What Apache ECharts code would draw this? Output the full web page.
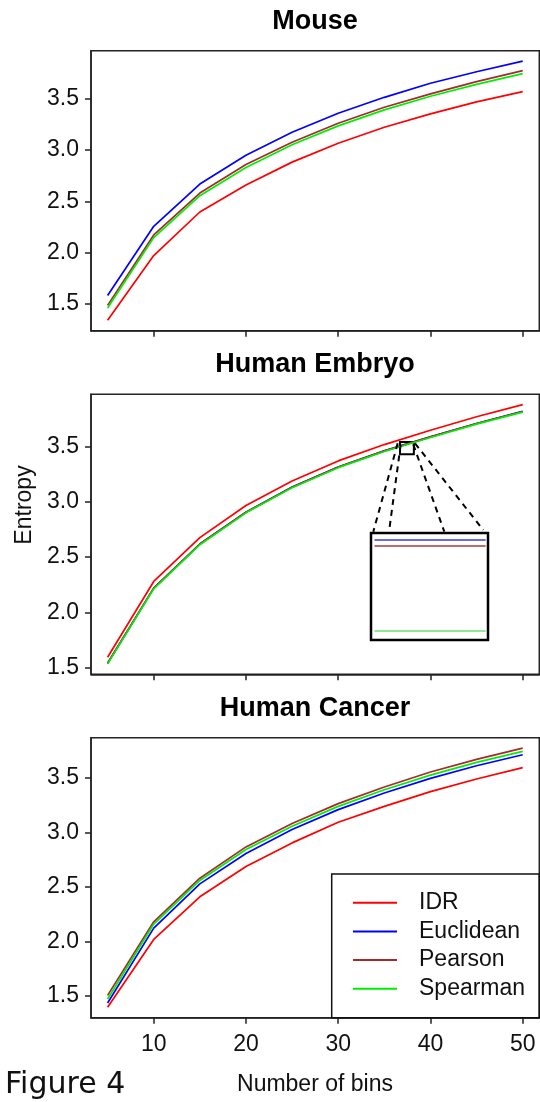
<!DOCTYPE html>
<html>
<head>
<meta charset="utf-8">
<script src="https://cdn.jsdelivr.net/npm/echarts@6.0.0/dist/echarts.min.js"></script>
<style>
  html, body { margin: 0; padding: 0; background: #fff; }
  #main { width: 540px; height: 1102px; }
</style>
</head>
<body>
<div id="main"></div>
<script>
// number of bins (x) shared by all three panels
var bins = [5, 10, 15, 20, 25, 30, 35, 40, 45, 50];
var methods = ['IDR', 'Euclidean', 'Pearson', 'Spearman'];
var colors = ['#ff0000', '#0000ff', '#a52a2a', '#00ee00'];
var panelTitles = ['Mouse', 'Human Embryo', 'Human Cancer'];
var xTicks = [10, 20, 30, 40, 50];
var yTicks = [1.5, 2.0, 2.5, 3.0, 3.5];

// entropy values
var mouseIDR       = [1.338, 1.971, 2.396, 2.659, 2.883, 3.068, 3.224, 3.354, 3.471, 3.571];
var mouseEuclidean = [1.581, 2.256, 2.669, 2.951, 3.175, 3.360, 3.516, 3.653, 3.766, 3.870];
var mousePearson   = [1.484, 2.172, 2.581, 2.860, 3.078, 3.263, 3.419, 3.549, 3.669, 3.776];
var mouseSpearman  = [1.458, 2.146, 2.555, 2.831, 3.052, 3.237, 3.393, 3.526, 3.643, 3.747];

var embryoIDR       = [1.593, 2.279, 2.676, 2.967, 3.188, 3.370, 3.518, 3.648, 3.770, 3.879];
var embryoEuclidean = [1.539, 2.219, 2.618, 2.906, 3.133, 3.315, 3.461, 3.588, 3.709, 3.818];
var embryoPearson   = [1.5386, 2.2186, 2.6176, 2.9056, 3.1326, 3.3146, 3.4606, 3.5876, 3.7086, 3.8176];
var embryoSpearman  = [1.533, 2.213, 2.612, 2.900, 3.127, 3.309, 3.455, 3.582, 3.703, 3.812];

var cancerIDR       = [1.396, 2.019, 2.410, 2.688, 2.905, 3.094, 3.240, 3.375, 3.491, 3.595];
var cancerEuclidean = [1.436, 2.123, 2.529, 2.807, 3.027, 3.210, 3.363, 3.497, 3.613, 3.714];
var cancerPearson   = [1.506, 2.181, 2.581, 2.868, 3.082, 3.265, 3.418, 3.555, 3.671, 3.775];
var cancerSpearman  = [1.473, 2.160, 2.560, 2.844, 3.057, 3.240, 3.393, 3.527, 3.644, 3.744];

var panels = [
    [mouseIDR, mouseEuclidean, mousePearson, mouseSpearman],
    [embryoIDR, embryoEuclidean, embryoPearson, embryoSpearman],
    [cancerIDR, cancerEuclidean, cancerPearson, cancerSpearman]
];

// zoomed region marked on the embryo panel (bins, entropy)
var zoomBins = [36.7, 38.2];
var zoomEntropy = [3.43, 3.542];

var FONT = '"Liberation Sans", Arial, sans-serif';

// R style range: data range padded by 4% on each side
function padRange(arrs) {
    var lo = Infinity, hi = -Infinity;
    arrs.forEach(function (a) {
        a.forEach(function (v) { lo = Math.min(lo, v); hi = Math.max(hi, v); });
    });
    var r = hi - lo;
    return [lo - 0.04 * r, hi + 0.04 * r];
}

var xRange = padRange([bins]);
var gridTops = [50.7, 394.3, 737.7];
var grids = [], xAxes = [], yAxes = [], series = [];

panels.forEach(function (vals, i) {
    var yr = padRange(vals);
    grids.push({
        left: 91, width: 448.3, top: gridTops[i], height: 280,
        show: true, borderColor: '#222', borderWidth: 1.5,
        backgroundColor: 'transparent'
    });
    xAxes.push({
        type: 'value', gridIndex: i, min: xRange[0], max: xRange[1],
        splitLine: { show: false },
        axisLine: { show: true, lineStyle: { color: '#222', width: 1.5 } },
        axisTick: { show: true, length: 6, customValues: xTicks, lineStyle: { color: '#222', width: 1.5 } },
        axisLabel: {
            show: i === 2, customValues: xTicks, margin: 15,
            fontSize: 23, fontFamily: FONT, color: '#111'
        }
    });
    yAxes.push({
        type: 'value', gridIndex: i, min: yr[0], max: yr[1],
        splitLine: { show: false },
        axisLine: { show: true, lineStyle: { color: '#222', width: 1.5 } },
        axisTick: { show: true, length: 6, customValues: yTicks, lineStyle: { color: '#222', width: 1.5 } },
        axisLabel: {
            customValues: yTicks, margin: 12,
            fontSize: 23, fontFamily: FONT, color: '#111',
            formatter: function (v) { return v.toFixed(1); }
        }
    });
    vals.forEach(function (arr, j) {
        var s = {
            type: 'line', name: methods[j],
            xAxisIndex: i, yAxisIndex: i,
            data: bins.map(function (b, k) { return [b, arr[k]]; }),
            showSymbol: false, symbol: 'none',
            lineStyle: { width: 1.7, color: colors[j] },
            itemStyle: { color: colors[j] },
            z: 2 + j, animation: false, silent: true
        };
        if (i === 1 && j === 3) {
            s.markArea = {
                silent: true,
                itemStyle: { color: 'rgba(0,0,0,0)', borderColor: '#000', borderWidth: 2 },
                data: [[{ coord: [zoomBins[0], zoomEntropy[1]] }, { coord: [zoomBins[1], zoomEntropy[0]] }]]
            };
        }
        series.push(s);
    });
});

// inset: schematic magnification of the embryo lines between bins 35 and 40
var insetVals = [embryoEuclidean, embryoPearson, embryoSpearman].map(function (a) {
    return (a[6] + a[7]) / 2;
});
var insetSpan = (insetVals[0] - insetVals[2]) / 0.85;
grids.push({
    left: 371, top: 533, width: 117, height: 107,
    show: true, borderColor: '#000', borderWidth: 2.5, backgroundColor: '#fff'
});
xAxes.push({ type: 'value', gridIndex: 3, min: 0, max: 1, show: false });
yAxes.push({
    type: 'value', gridIndex: 3, show: false,
    min: insetVals[2] - 0.085 * insetSpan, max: insetVals[0] + 0.065 * insetSpan
});
var insetColors = ['#6b6be6', '#c06a6a', '#90e890'];
insetVals.forEach(function (v, j) {
    series.push({
        type: 'line', name: 'inset' + j, xAxisIndex: 3, yAxisIndex: 3,
        data: [[0.03, v], [0.98, v]],
        showSymbol: false, symbol: 'none',
        lineStyle: { width: 2, color: insetColors[j] },
        animation: false, silent: true
    });
});

var dash = { stroke: '#000', lineWidth: 2, lineDash: [6, 5] };
var graphics = [];
[21.5, 365, 709].forEach(function (y, i) {
    graphics.push({
        type: 'text', x: 315, y: y,
        style: {
            text: panelTitles[i], font: 'bold 27px ' + FONT, fill: '#000',
            textAlign: 'center', textVerticalAlign: 'middle'
        }
    });
});
graphics.push(
    { type: 'text', x: 25, y: 505, rotation: Math.PI / 2,
      style: { text: 'Entropy', font: '23px ' + FONT, fill: '#111', textAlign: 'center', textVerticalAlign: 'middle' } },
    { type: 'text', x: 315, y: 1085,
      style: { text: 'Number of bins', font: '23px ' + FONT, fill: '#111', textAlign: 'center', textVerticalAlign: 'middle' } },
    { type: 'text', x: 5, y: 1085,
      style: { text: 'Figure 4', font: '30px "DejaVu Sans", sans-serif', fill: '#111', textAlign: 'left', textVerticalAlign: 'middle' } },
    // legend frame
    { type: 'rect', shape: { x: 331.7, y: 874, width: 207.6, height: 143.7 },
      style: { fill: 'none', stroke: '#111', lineWidth: 1.5 }, z: 10 },
    // dashed connectors from zoom box to inset
    { type: 'line', shape: { x1: 397.7, y1: 443.3, x2: 373.3, y2: 531.7 }, style: dash, z: 10 },
    { type: 'line', shape: { x1: 400.7, y1: 444.5, x2: 389, y2: 531.7 }, style: dash, z: 10 },
    { type: 'line', shape: { x1: 413.3, y1: 444.5, x2: 444.3, y2: 531.7 }, style: dash, z: 10 },
    { type: 'line', shape: { x1: 415, y1: 443.3, x2: 483.3, y2: 530 }, style: dash, z: 10 }
);

var chart = echarts.init(document.getElementById('main'));
chart.setOption({
    backgroundColor: '#fff',
    animation: false,
    grid: grids,
    xAxis: xAxes,
    yAxis: yAxes,
    legend: {
        data: methods, orient: 'vertical', left: 353, top: 891.2,
        padding: 0, itemWidth: 44, itemHeight: 2, itemGap: 5.7,
        icon: 'rect', selectedMode: false,
        textStyle: { fontSize: 23, fontFamily: FONT, color: '#111', lineHeight: 23, padding: [0, 0, 0, 17] }
    },
    series: series,
    graphic: graphics
});
</script>
</body>
</html>
